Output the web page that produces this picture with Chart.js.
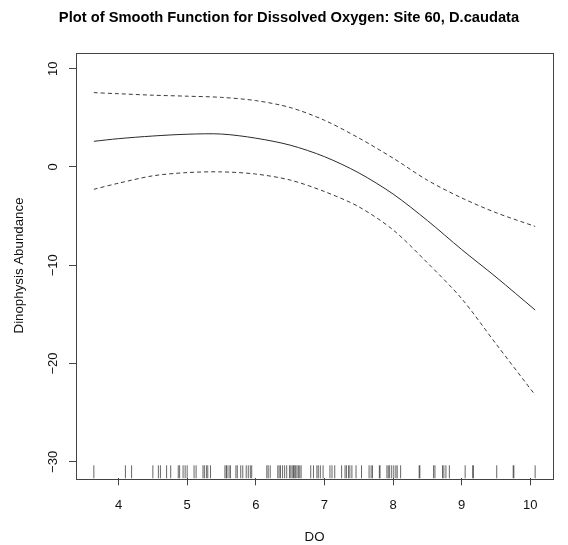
<!DOCTYPE html>
<html>
<head>
<meta charset="utf-8">
<title>Smooth function for dissolved oxygen</title>
<script src="https://cdn.jsdelivr.net/npm/chart.js@4"></script>
<style>
  html, body { margin: 0; padding: 0; background: #fff; }
</style>
</head>
<body>
<canvas id="smoothPlot" width="568" height="545"></canvas>
<script>
// DO values where the smooth term was evaluated
const doGrid = [3.64, 4.0, 4.5, 5.0, 5.5, 6.0, 6.5, 7.0, 7.5, 8.0, 8.5, 9.0, 9.5, 10.07];
// fitted smooth s(DO) and its upper / lower confidence band
const fitted = [2.61, 2.88, 3.15, 3.33, 3.35, 2.93, 2.22, 1.05, -0.6, -2.75, -5.45, -8.4, -11.2, -14.55];
const upperBand = [7.56, 7.45, 7.3, 7.2, 7.08, 6.75, 6.05, 4.75, 2.95, 0.9, -1.35, -3.15, -4.65, -6.05];
const lowerBand = [-2.27, -1.65, -0.9, -0.57, -0.5, -0.72, -1.33, -2.5, -4.05, -6.4, -9.75, -13.4, -18.0, -23.2];

// observed DO values, drawn as a rug along the bottom
const rugDO = [3.64, 4.10, 4.19, 4.50, 4.58, 4.61, 4.70, 4.76, 4.87, 4.89, 4.94, 4.97, 5.00,
  5.10, 5.13, 5.23, 5.25, 5.28, 5.30, 5.34, 5.55, 5.57, 5.58, 5.61, 5.63, 5.71, 5.73, 5.78,
  5.81, 5.86, 5.89, 5.92, 5.94, 6.16, 6.18, 6.21, 6.32, 6.34, 6.36, 6.39, 6.42, 6.45, 6.49,
  6.51, 6.53, 6.55, 6.56, 6.58, 6.60, 6.62, 6.64, 6.66, 6.80, 6.84, 6.89, 6.91, 6.94, 6.98,
  7.08, 7.11, 7.15, 7.25, 7.30, 7.32, 7.35, 7.37, 7.40, 7.46, 7.54, 7.65, 7.68, 7.70, 7.80,
  7.81, 7.91, 7.93, 7.95, 7.98, 8.01, 8.04, 8.06, 8.11, 8.38, 8.39, 8.59, 8.61, 8.72, 8.74,
  8.77, 8.82, 9.05, 9.16, 9.17, 9.51, 9.75, 9.76, 10.07];

const xTicks = [4, 5, 6, 7, 8, 9, 10];
const yTicks = [-30, -20, -10, 0, 10];

// axis limits (R style, 4% beyond the data)
const X_MIN = 3.38, X_MAX = 10.33;
const Y_MIN = -31.67, Y_MAX = 11.63;

const pts = ys => doGrid.map((x, i) => ({ x: x, y: ys[i] }));
const minus = v => String(v).replace('-', '\u2212');

// box round the plotting region
const boxPlugin = {
  id: 'plotBox',
  afterDraw(chart) {
    const a = chart.chartArea;
    const c = chart.ctx;
    c.save();
    c.strokeStyle = '#444';
    c.lineWidth = 1;
    c.strokeRect(Math.round(a.left) + 0.5, Math.round(a.top) + 0.5,
      Math.round(a.right - a.left), Math.round(a.bottom - a.top));
    c.restore();
  }
};

const lineStyle = { showLine: true, pointRadius: 0, borderWidth: 1, tension: 0.3, fill: false };

const ctx = document.getElementById('smoothPlot').getContext('2d');
new Chart(ctx, {
  type: 'scatter',
  data: {
    datasets: [
      Object.assign({ label: 'fit', data: pts(fitted), borderColor: '#2a2a2a' }, lineStyle),
      Object.assign({ label: 'upper', data: pts(upperBand), borderColor: '#3a3a3a', borderDash: [4, 3] }, lineStyle),
      Object.assign({ label: 'lower', data: pts(lowerBand), borderColor: '#3a3a3a', borderDash: [4, 3] }, lineStyle),
      {
        label: 'rug',
        data: rugDO.map(x => ({ x: x, y: Y_MIN })),
        pointStyle: 'line',
        rotation: 90,
        pointRadius: 13,
        borderWidth: 1,
        borderColor: 'rgba(0,0,0,0.6)',
        clip: 0
      }
    ]
  },
  options: {
    responsive: false,
    animation: false,
    layout: { padding: { left: 25, right: 15, top: 0, bottom: 0 } },
    plugins: {
      legend: { display: false },
      tooltip: { enabled: false },
      title: {
        display: true,
        text: 'Plot of Smooth Function for Dissolved Oxygen: Site 60, D.caudata',
        color: '#000',
        font: { family: 'Liberation Sans, Arial, sans-serif', size: 14.7, weight: 'bold' },
        padding: { top: 8.7, bottom: 26.3 }
      }
    },
    scales: {
      x: {
        type: 'linear',
        min: X_MIN,
        max: X_MAX,
        afterBuildTicks: s => { s.ticks = xTicks.map(v => ({ value: v })); },
        afterFit: s => { s.height = 66.7; },
        ticks: {
          color: '#111',
          padding: 12.5,
          maxRotation: 0,
          font: { family: 'Liberation Sans, Arial, sans-serif', size: 13 }
        },
        grid: { drawOnChartArea: false, tickLength: 7, color: '#444' },
        border: { display: false },
        title: {
          display: true,
          text: 'DO',
          color: '#111',
          font: { family: 'Liberation Sans, Arial, sans-serif', size: 13.3 },
          padding: { top: 0, bottom: 0 }
        }
      },
      y: {
        type: 'linear',
        min: Y_MIN,
        max: Y_MAX,
        afterBuildTicks: s => { s.ticks = yTicks.map(v => ({ value: v })); },
        afterFit: s => { s.width = 51; },
        ticks: {
          color: '#111',
          padding: 5,
          minRotation: 90,
          maxRotation: 90,
          crossAlign: 'center',
          callback: v => minus(v),
          font: { family: 'Liberation Sans, Arial, sans-serif', size: 13 }
        },
        grid: { drawOnChartArea: false, tickLength: 7, color: '#444' },
        border: { display: false },
        title: {
          display: true,
          text: 'Dinophysis Abundance',
          color: '#111',
          font: { family: 'Liberation Sans, Arial, sans-serif', size: 13.3 },
          padding: { top: -13.5, bottom: 0 }
        }
      }
    }
  },
  plugins: [boxPlugin]
});
</script>
</body>
</html>
